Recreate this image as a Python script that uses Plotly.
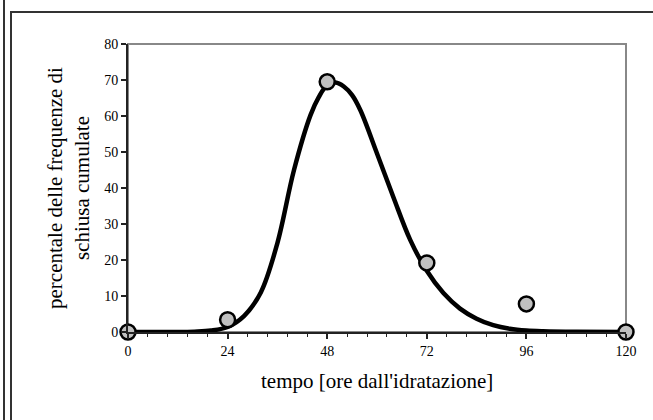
import plotly.graph_objects as go

# observed data points
obs_x = [0, 24, 48, 72, 96, 120]
obs_y = [0, 3.4, 69.5, 19.2, 7.8, 0]

# fitted curve
fit_x = [0, 4, 8, 12, 16, 20, 24, 28, 32, 36, 40, 44, 46, 48, 50, 52, 54, 56, 60, 64,
         68, 72, 76, 80, 84, 88, 92, 96, 100, 108, 120]
fit_y = [0, 0, 0, 0, 0.1, 0.4, 1.4, 4.5, 11, 24.7, 45, 60.3, 65.3, 68.6, 69.3, 68.2, 65.8, 61.6,
         49.6, 37.3, 25.6, 17.0, 10.8, 6.5, 3.7, 1.9, 0.9, 0.4, 0.2, 0.05, 0]

x_ticks = [0, 24, 48, 72, 96, 120]
y_ticks = [0, 10, 20, 30, 40, 50, 60, 70, 80]

x_title = "tempo [ore dall'idratazione]"
y_title = "percentale delle frequenze di<br>schiusa cumulate"

W, H = 653, 420
L, R, T, B = 128, 626, 44, 332
PW, PH = R - L, B - T

def px(x):
    return (x - L) / PW

def py(y):
    return (B - y) / PH

FONT = "Liberation Serif, Times New Roman, serif"

fig = go.Figure()
fig.add_trace(go.Scatter(x=fit_x, y=fit_y, mode="lines",
                         line=dict(color="black", width=4.5, shape="spline", smoothing=1.0),
                         hoverinfo="skip", showlegend=False, cliponaxis=False))
fig.add_trace(go.Scatter(x=obs_x, y=obs_y, mode="markers",
                         marker=dict(size=15, color="#c0c0c0", line=dict(color="black", width=2.5)),
                         showlegend=False, cliponaxis=False))

fig.update_layout(
    width=W, height=H,
    margin=dict(l=L, r=W - R, t=T, b=H - B),
    paper_bgcolor="white", plot_bgcolor="white",
    font=dict(family=FONT, color="black", size=14),
    xaxis=dict(range=[0, 120], tickvals=x_ticks, showgrid=False, zeroline=False,
               showline=True, linecolor="#222", linewidth=2,
               ticks="outside", ticklen=5, tickwidth=1.5, tickcolor="#222",
               minor=dict(dtick=4.8, ticks="outside", ticklen=3, tickcolor="#222", tickwidth=1),
               tickfont=dict(size=14, family=FONT)),
    yaxis=dict(range=[0, 80], tickvals=y_ticks, showgrid=False, zeroline=False,
               showline=True, linecolor="#222", linewidth=2,
               ticks="outside", ticklen=5, tickwidth=1.5, tickcolor="#222",
               tickfont=dict(size=14, family=FONT)),
    shapes=[
        dict(type="rect", xref="paper", yref="paper", x0=0, x1=1, y0=0, y1=1,
             line=dict(color="#888", width=2), layer="below"),
        dict(type="line", xref="paper", yref="paper", x0=px(4), x1=px(4), y0=py(-5), y1=py(425),
             line=dict(color="#333", width=2)),
        dict(type="rect", xref="paper", yref="paper", x0=px(11), x1=px(700), y0=py(700), y1=py(12),
             line=dict(color="#333", width=2), fillcolor="rgba(0,0,0,0)"),
    ],
    annotations=[
        dict(text=x_title, xref="paper", yref="paper", x=0.5, y=py(381),
             showarrow=False, xanchor="center", yanchor="middle",
             font=dict(size=21, family=FONT)),
        dict(text=y_title, xref="paper", yref="paper", x=px(68), y=0.5,
             showarrow=False, xanchor="center", yanchor="middle", textangle=-90,
             font=dict(size=21, family=FONT)),
    ],
)

fig.write_html("out.html")
